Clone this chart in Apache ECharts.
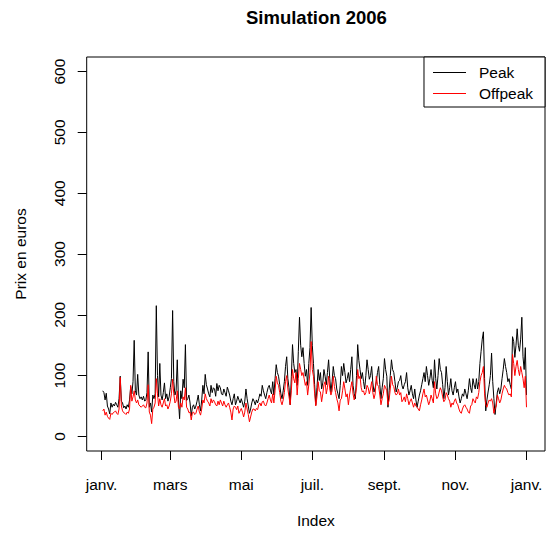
<!DOCTYPE html>
<html><head><meta charset="utf-8">
<script src="https://cdn.jsdelivr.net/npm/echarts@6/dist/echarts.min.js"></script>
<style>html,body{margin:0;padding:0;background:#fff}#c{width:551px;height:533px}</style>
</head><body><div id="c"></div>
<script>
const peak = [
75,72,60,71,50,45,37,55,48,53,
50,56,52,48,62,99,58,55,47,50,
45,52,48,60,82,70,90,158,75,68,
102,68,62,65,60,66,58,60,72,139,
48,55,40,68,62,70,215,100,65,120,
68,60,72,88,62,70,58,65,80,95,
207,90,68,75,126,60,29,75,62,94,
80,151,59,62,68,55,34,48,52,45,
50,58,68,52,42,60,84,70,102,85,
78,70,65,84,72,80,78,66,87,75,
84,80,70,68,78,72,66,81,75,68,
58,52,62,70,52,58,66,60,55,62,
55,48,58,78,62,50,38,45,55,62,
58,52,60,55,62,70,66,84,75,68,
62,72,80,84,76,70,90,68,95,118,
105,99,85,70,62,75,90,115,131,95,
80,52,98,151,120,105,110,84,140,196,
150,131,146,120,99,110,84,120,146,212,
150,120,85,52,80,110,92,105,78,88,
110,99,85,105,126,95,73,90,115,100,
95,78,70,62,84,115,100,120,105,88,
95,105,90,110,131,84,70,62,100,151,
125,110,95,105,90,78,100,126,110,94,
100,115,88,73,80,90,105,115,85,62,
80,95,128,110,99,48,75,100,126,110,
105,90,73,80,90,92,100,84,78,85,
90,105,80,68,75,84,70,62,78,60,
48,58,68,75,85,95,105,90,115,100,
84,95,110,92,80,126,95,78,100,128,
110,105,85,62,80,115,90,68,80,95,
75,68,80,90,72,78,65,55,62,70,
66,78,70,62,75,95,80,72,95,85,
78,95,78,90,120,140,160,172,95,42,
60,73,85,100,137,90,62,36,55,73,
80,70,78,95,110,128,115,105,90,95,
85,78,164,156,130,150,177,150,140,160,
196,131,110,146,68
];
const offpeak = [
42,45,35,40,33,30,28,38,36,39,
40,42,38,36,45,97,50,42,39,38,
36,40,38,45,84,58,65,75,60,55,
60,52,50,48,50,52,48,47,55,85,
40,35,21,45,48,55,95,70,50,62,
52,48,55,62,50,52,45,50,58,70,
94,70,55,58,75,48,45,55,48,65,
60,80,48,45,39,40,27,39,40,36,
38,45,50,40,35,45,60,55,70,62,
58,55,50,62,55,60,57,52,50,58,
52,60,55,50,58,52,48,52,55,48,
40,27,45,50,48,44,50,38,42,46,
40,32,40,55,45,36,24,32,40,45,
45,42,46,44,52,55,50,57,58,52,
50,55,62,68,60,55,70,55,75,99,
88,84,72,58,52,60,72,90,100,78,
65,52,75,110,95,88,105,68,95,120,
110,100,105,95,84,90,68,85,105,156,
110,99,70,50,65,90,75,73,57,70,
85,90,70,80,99,78,68,75,99,82,
72,62,55,42,60,62,75,90,78,65,
70,52,68,80,90,70,60,68,80,110,
95,99,80,73,75,68,72,84,80,70,
78,90,72,62,70,99,85,82,68,52,
62,70,84,80,75,52,60,78,99,85,
82,72,68,70,78,68,72,57,60,65,
57,70,62,52,58,62,55,48,55,50,
48,45,42,52,60,70,78,65,68,60,
52,58,68,62,55,90,70,62,65,73,
80,75,65,57,60,72,68,62,58,48,
55,52,58,62,55,52,45,40,38,45,
50,52,48,45,40,38,50,52,62,58,
55,65,62,72,90,100,105,115,70,52,
48,55,60,58,62,55,38,45,50,68,
62,55,60,70,78,84,80,78,72,68,
70,65,135,120,100,115,125,110,100,115,
105,95,80,99,48
];
// Month tick positions (days since 1 Jan 2006) and labels
const monthTickDays = [0, 59, 120, 181, 243, 304, 365];
const monthTickLabels = ['janv.', 'mars', 'mai', 'juil.', 'sept.', 'nov.', 'janv.'];
const yTicks = [0, 100, 200, 300, 400, 500, 600];
const seriesNames = ['Peak', 'Offpeak'];
const firstDay = 1; // first observation: 2 Jan 2006

if (peak.length !== 365 || offpeak.length !== 365) {
  throw new Error('length mismatch ' + peak.length + ' ' + offpeak.length);
}

const FONT = "'Liberation Sans', Arial, sans-serif";
const toPairs = arr => arr.map((v, i) => [firstDay + i, v]);

const chart = echarts.init(document.getElementById('c'), null, {renderer: 'svg', width: 551, height: 533});
chart.setOption({
  animation: false,
  backgroundColor: '#ffffff',
  title: {
    text: 'Simulation 2006',
    left: 246, top: 8, padding: 0,
    textStyle: {fontFamily: FONT, fontSize: 18.5, fontWeight: 'bold', color: '#000'}
  },
  legend: {
    orient: 'vertical', right: 6, top: 57, align: 'left',
    padding: [7, 12, 5, 9], itemGap: 4,
    borderColor: '#000', borderWidth: 1, borderRadius: 0,
    backgroundColor: '#fff',
    icon: 'rect', itemWidth: 33, itemHeight: 1,
    textStyle: {fontFamily: FONT, fontSize: 15.5, color: '#000', lineHeight: 17, padding: [0, 0, 0, 8]},
    data: seriesNames
  },
  grid: {
    left: 86.7, right: 6, top: 57, bottom: 77.3,
    show: true, borderColor: '#000', borderWidth: 1, backgroundColor: 'transparent',
    containLabel: false
  },
  xAxis: {
    type: 'value', min: -12.8, max: 380.9,
    name: 'Index', nameLocation: 'middle', nameGap: 61,
    nameTextStyle: {fontFamily: FONT, fontSize: 15.5, color: '#000'},
    axisLine: {show: false, onZero: false},
    splitLine: {show: false},
    axisTick: {show: true, inside: false, length: 9, customValues: monthTickDays, lineStyle: {color: '#000', width: 1}},
    axisLabel: {
      customValues: monthTickDays, margin: 25,
      fontFamily: FONT, fontSize: 15.5, color: '#000',
      formatter: v => monthTickLabels[monthTickDays.indexOf(v)] ?? ''
    }
  },
  yAxis: {
    type: 'value', min: -24, max: 624,
    name: 'Prix en euros', nameLocation: 'middle', nameGap: 58, nameRotate: 90,
    nameTextStyle: {fontFamily: FONT, fontSize: 15.5, color: '#000'},
    axisLine: {show: false, onZero: false},
    splitLine: {show: false},
    axisTick: {show: true, inside: false, length: 9, customValues: yTicks, lineStyle: {color: '#000', width: 1}},
    axisLabel: {
      customValues: yTicks, rotate: 90, margin: 19,
      fontFamily: FONT, fontSize: 15.5, color: '#000'
    }
  },
  series: [
    {name: seriesNames[0], type: 'line', data: toPairs(peak), showSymbol: false, symbol: 'none',
     lineStyle: {color: '#000', width: 1}, itemStyle: {color: '#000'}},
    {name: seriesNames[1], type: 'line', data: toPairs(offpeak), showSymbol: false, symbol: 'none',
     lineStyle: {color: '#ff0000', width: 1}, itemStyle: {color: '#ff0000'}}
  ]
});
</script></body></html>
